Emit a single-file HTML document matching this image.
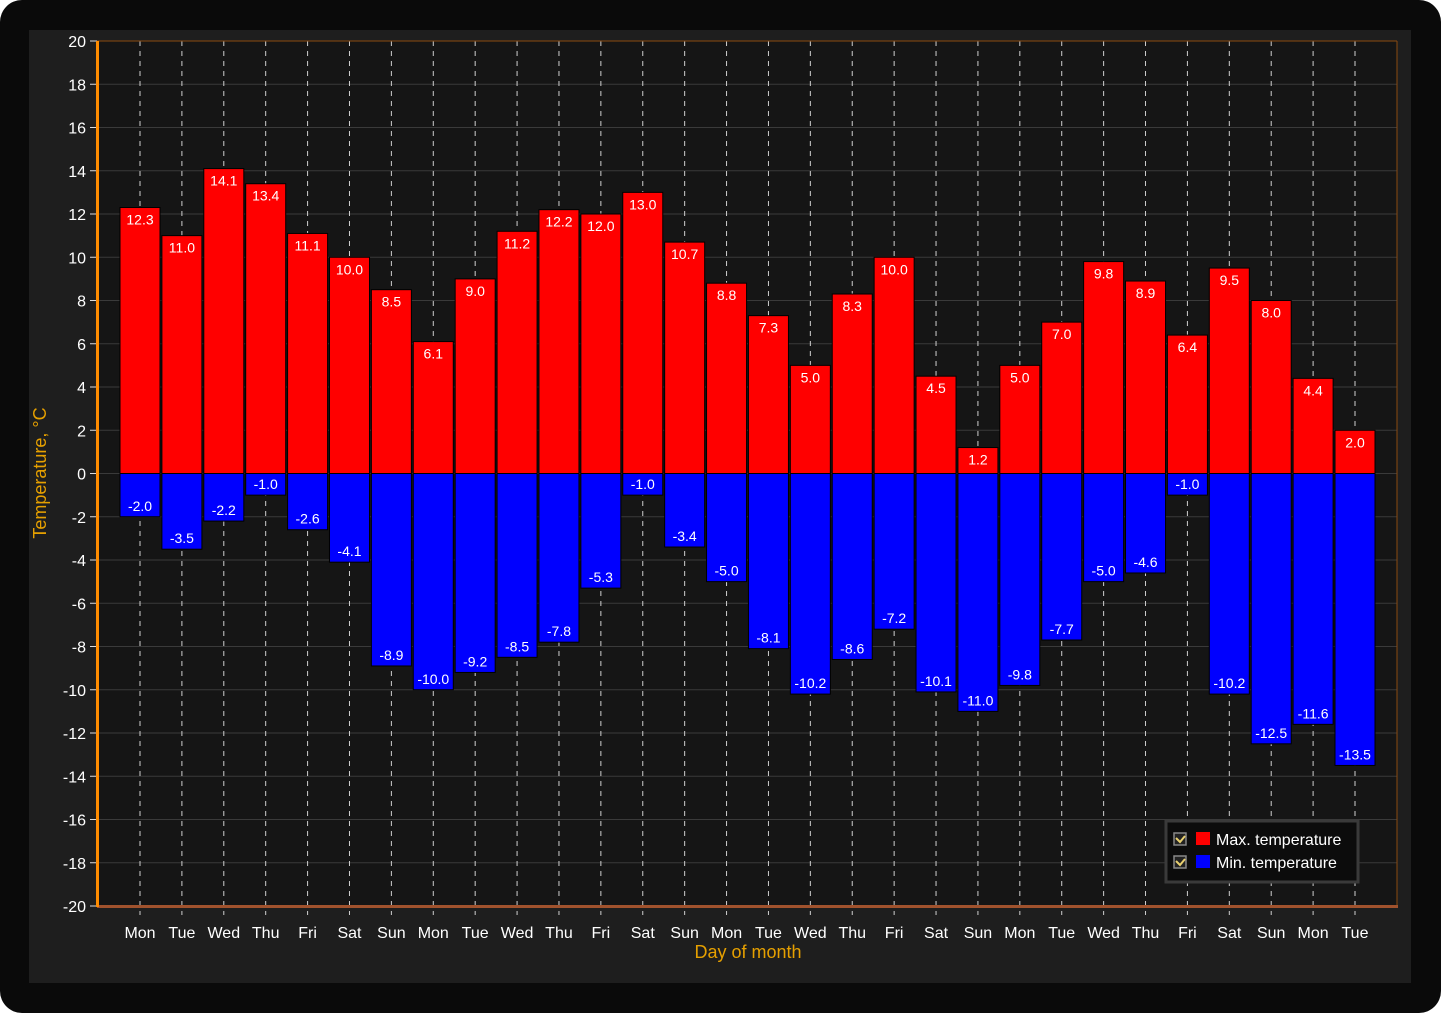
<!DOCTYPE html>
<html><head><meta charset="utf-8"><style>
html,body{margin:0;padding:0;background:#fff;}
body{width:1441px;height:1013px;overflow:hidden;}
svg text{font-family:"Liberation Sans",sans-serif;}
</style></head><body>
<svg id="chart" width="1441" height="1013" xmlns="http://www.w3.org/2000/svg">
<rect x="0" y="0" width="1441" height="1013" rx="22" fill="#0a0a0a"/>
<rect x="29" y="30" width="1382" height="953" fill="#1e1e1e"/>
<rect x="97" y="41" width="1300" height="865" fill="#151515"/>
<g id="grid"></g><g id="bars"></g><g id="axes"></g>
<text transform="translate(46,473) rotate(-90)" text-anchor="middle" font-size="18" fill="#e6a000">Temperature, °C</text>
<text x="748" y="958" text-anchor="middle" font-size="18" fill="#e6a000">Day of month</text>
<g>
<rect x="1166" y="821" width="192" height="61" fill="#0c0c0c" stroke="#3a3a3a" stroke-width="3"/>
<g>
<rect x="1174" y="833" width="12" height="12" fill="#222" stroke="#888" stroke-width="1.5"/>
<path d="M1176 838 l4 4 l5 -6" stroke="#e8d070" stroke-width="2" fill="none"/>
<rect x="1196" y="832" width="14" height="13" fill="#ff0000"/>
<text x="1216" y="845" font-size="16" fill="#fff">Max. temperature</text></g>
<g>
<rect x="1174" y="856" width="12" height="12" fill="#222" stroke="#888" stroke-width="1.5"/>
<path d="M1176 861 l4 4 l5 -6" stroke="#e8d070" stroke-width="2" fill="none"/>
<rect x="1196" y="855" width="14" height="13" fill="#0000ff"/>
<text x="1216" y="868" font-size="16" fill="#fff">Min. temperature</text></g>
</g>
</svg>
<script>
const categories=["Mon","Tue","Wed","Thu","Fri","Sat","Sun","Mon","Tue","Wed","Thu","Fri","Sat","Sun","Mon","Tue","Wed","Thu","Fri","Sat","Sun","Mon","Tue","Wed","Thu","Fri","Sat","Sun","Mon","Tue"];
const maxTemps=[12.3,11.0,14.1,13.4,11.1,10.0,8.5,6.1,9.0,11.2,12.2,12.0,13.0,10.7,8.8,7.3,5.0,8.3,10.0,4.5,1.2,5.0,7.0,9.8,8.9,6.4,9.5,8.0,4.4,2.0];
const minTemps=[-2.0,-3.5,-2.2,-1.0,-2.6,-4.1,-8.9,-10.0,-9.2,-8.5,-7.8,-5.3,-1.0,-3.4,-5.0,-8.1,-10.2,-8.6,-7.2,-10.1,-11.0,-9.8,-7.7,-5.0,-4.6,-1.0,-10.2,-12.5,-11.6,-13.5];
const yTicks=[20,18,16,14,12,10,8,6,4,2,0,-2,-4,-6,-8,-10,-12,-14,-16,-18,-20];
const NS="http://www.w3.org/2000/svg";
const yMinV=-20,yMaxV=20,plotTop=41,plotBottom=906,plotLeft=97,plotRight=1397;
const firstX=140,lastX=1355;
function yS(v){return plotBottom-(v-yMinV)/(yMaxV-yMinV)*(plotBottom-plotTop);}
function xS(i){return firstX+i*(lastX-firstX)/(categories.length-1);}
function mk(tag,attrs,parent){const e=document.createElementNS(NS,tag);for(const k in attrs)e.setAttribute(k,attrs[k]);parent.appendChild(e);return e;}
const gridG=document.getElementById('grid'),barsG=document.getElementById('bars'),axesG=document.getElementById('axes');
yTicks.forEach(t=>{
 const y=yS(t);
 const l=mk('line',{x1:plotLeft,x2:plotRight,y1:y,y2:y,stroke:'#3a3a3a','stroke-width':1},gridG);
 
 
 const tk=mk('line',{x1:plotLeft-7,x2:plotLeft,y1:y,y2:y,stroke:'#ddd','stroke-width':1},axesG);
 
 
 const tx=mk('text',{x:plotLeft-11,y:y+6,'text-anchor':'end','font-size':16,fill:'#fff'},axesG);
 tx.textContent=t;
 
 
});
categories.forEach((c,i)=>{
 const x=xS(i);
 const l=mk('line',{x1:x,x2:x,y1:plotTop,y2:plotBottom+9,stroke:'#cfcfcf','stroke-width':1,'stroke-dasharray':'5,5'},gridG);
 
 
 const tx=mk('text',{x:x,y:938,'text-anchor':'middle','font-size':16,fill:'#fff'},axesG);
 tx.textContent=c;
 
 
 const w=40,z=yS(0);
 const yM=yS(maxTemps[i]);
 const b1=mk('rect',{x:x-w/2,y:yM,width:w,height:z-yM,fill:'#ff0000',stroke:'#000','stroke-width':1},barsG);
 
 
 const t1=mk('text',{x:x,y:yM+17,'text-anchor':'middle','font-size':14,fill:'#fff'},barsG);
 t1.textContent=maxTemps[i].toFixed(1);
 
 
 const yN=yS(minTemps[i]);
 const b2=mk('rect',{x:x-w/2,y:z,width:w,height:yN-z,fill:'#0000ff',stroke:'#000','stroke-width':1},barsG);
 
 
 const t2=mk('text',{x:x,y:yN-6,'text-anchor':'middle','font-size':14,fill:'#fff'},barsG);
 t2.textContent=minTemps[i].toFixed(1);
 
 
});
const tb=mk('line',{x1:plotLeft,x2:plotRight,y1:plotTop,y2:plotTop,stroke:'#8a4a10','stroke-width':1},axesG);


const rb=mk('line',{x1:plotRight,x2:plotRight,y1:plotTop,y2:plotBottom,stroke:'#8a4a10','stroke-width':1},axesG);


const xa=mk('rect',{x:plotLeft,y:plotBottom-1,width:plotRight-plotLeft+1,height:3,fill:'#a0522d'},axesG);


const ya=mk('rect',{x:plotLeft-1,y:plotTop,width:3,height:plotBottom-plotTop+1,fill:'#ff8c00'},axesG);


</script>
</body></html>
